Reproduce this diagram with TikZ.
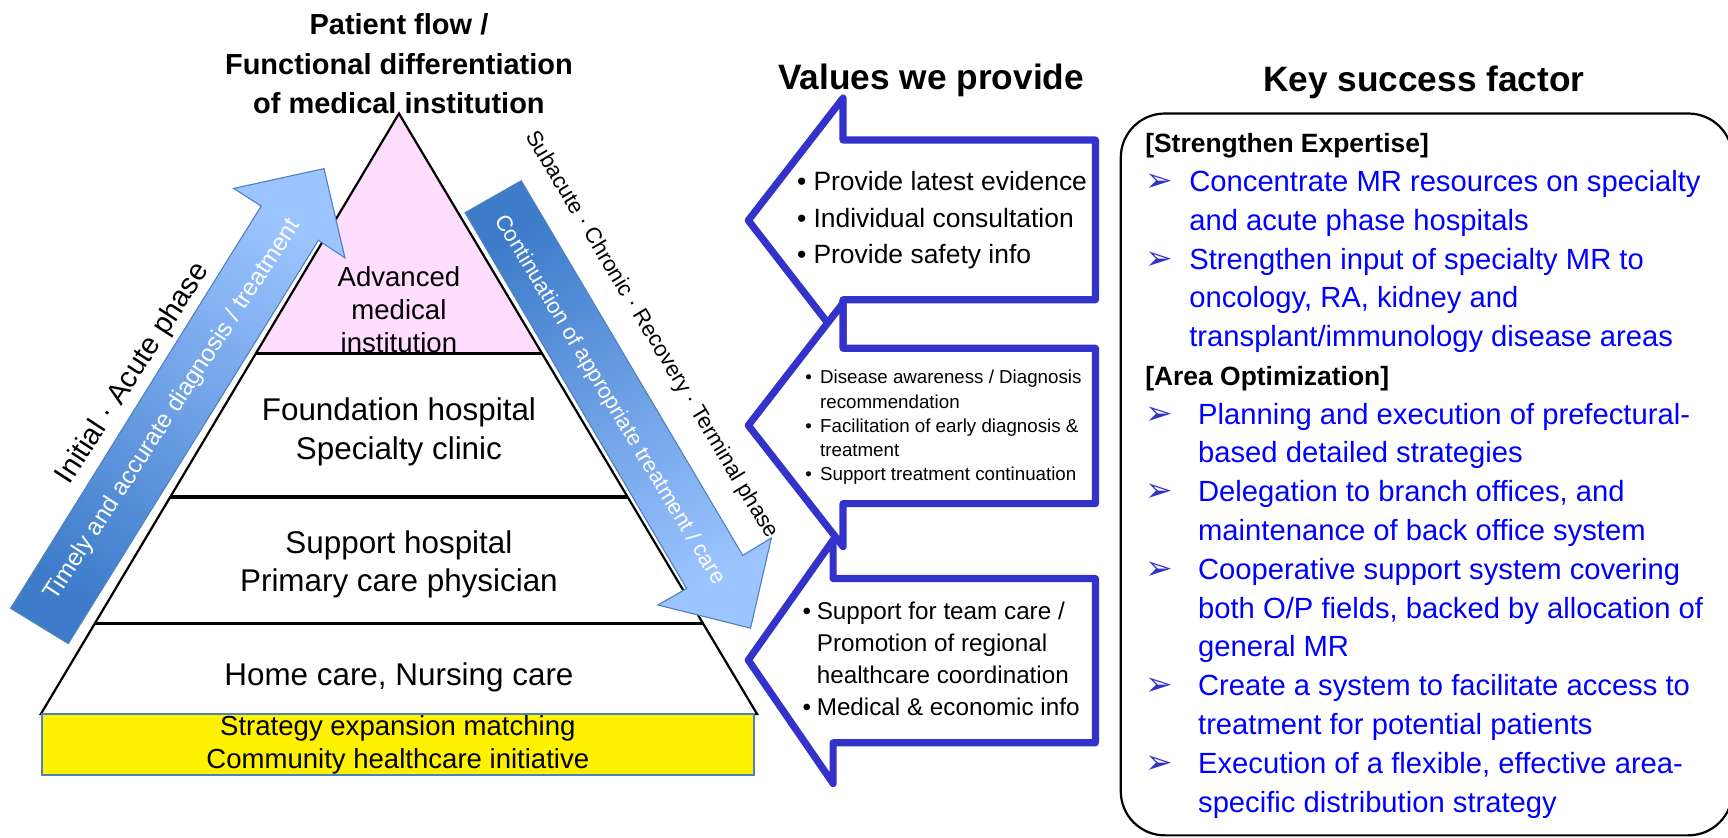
\documentclass[tikz,border=0pt]{standalone}
\usepackage{fontspec}
\setmainfont{Liberation Sans}
\newfontfamily\dingfont{DejaVu Sans}
\usetikzlibrary{calc}
\definecolor{pinkfill}{RGB}{255,221,255}
\definecolor{chevblue}{RGB}{51,51,204}
\definecolor{arrowdark}{RGB}{62,124,202}
\definecolor{arrowlight}{RGB}{156,196,255}
\definecolor{arrowline}{RGB}{79,129,189}
\definecolor{ksfblue}{RGB}{0,0,255}
\newcommand{\bul}[1]{\makebox[#1][l]{•}}
\begin{document}
\begin{tikzpicture}[x=1pt,y=-1pt,
  title/.style={font=\bfseries\fontsize{26.3}{36}\selectfont,align=center,inner sep=0},
  header/.style={font=\bfseries\fontsize{32}{38}\selectfont,inner sep=0},
  tier/.style={font=\fontsize{28.5}{35}\selectfont,align=center,inner sep=0},
  phase/.style={font=\fontsize{20}{24}\selectfont,inner sep=0},
  flow arrow/.style={draw=arrowline,line width=1},
  chevron/.style={draw=chevblue,fill=white,line width=6.5,line join=round},
  value/.style={align=left,anchor=west,inner sep=0},
  ksf/.style={font=\fontsize{26.5}{35}\selectfont,text=ksfblue,anchor=base west,inner sep=0},
  ksf head/.style={font=\bfseries\fontsize{24}{35}\selectfont,anchor=base west,inner sep=0},
  pointer/.style={font=\dingfont\fontsize{30}{34}\selectfont,text=chevblue,anchor=base west,inner sep=0}]

  \useasboundingbox (0,0) rectangle (1568,760);
  \clip (0,0) rectangle (1568,760);

  % pyramid
  \coordinate (apex) at (362,103);
  \coordinate (baseL) at (37,648);
  \coordinate (baseR) at (687,648);
  \fill[pinkfill] (apex) -- ($(apex)!0.4!(baseL)$) -- ($(apex)!0.4!(baseR)$) -- cycle;
  \draw[line width=2] (apex) -- (baseL) -- (baseR) -- cycle;
  \foreach \t in {0.4,0.6385,0.8495}
    \draw[line width=3] ($(apex)!\t!(baseL)$) -- ($(apex)!\t!(baseR)$);

  \node[draw=arrowline,fill=yellow,line width=1.5,minimum width=646pt,minimum height=55pt,
    inner sep=0,align=center,font=\fontsize{25}{30}\selectfont] (strategy) at (361,675.5)
    {Strategy expansion matching\\Community healthcare initiative};

  \node[tier,font=\fontsize{25}{30}\selectfont] (advanced) at (362,281) {Advanced\\medical\\institution};
  \node[tier] (foundation) at (362,392) {Foundation hospital\\Specialty clinic};
  \node[tier] (support) at (362,512) {Support hospital\\Primary care physician};
  \node[tier] (home) at (362,615) {Home care, Nursing care};

  % flow arrows
  \path[flow arrow,top color=arrowlight,bottom color=arrowdark,shading angle=-32]
    (9.7,552) -- (62,584) -- (289,218) -- (313,234) -- (294,153) -- (212,171) -- (237,187) -- cycle;
  \path[flow arrow,top color=arrowdark,bottom color=arrowlight,shading angle=31]
    (422,193) -- (473,164) -- (674,504) -- (700,488) -- (681,570) -- (597,549) -- (623,534) -- cycle;

  \node[phase,font=\fontsize{26.5}{30}\selectfont,rotate=57] (initial) at (121,339) {Initial · Acute phase};
  \node[phase,font=\fontsize{22}{26}\selectfont,text=white,rotate=57] (timely) at (157,372)
    {Timely and accurate diagnosis / treatment};
  \node[phase,text=white,rotate=-59] (continuation) at (553,363) {Continuation of appropriate treatment / care};
  \node[phase,rotate=-59] (subacute) at (591,304) {Subacute · Chronic · Recovery · Terminal phase};

  % values we provide
  \draw[chevron] (765,89) -- (765,127) -- (994,127) -- (994,272) -- (765,272) -- (765,311) -- (679,200) -- cycle;
  \draw[chevron] (765,275) -- (765,316) -- (994,316) -- (994,457) -- (765,457) -- (765,496) -- (679,386) -- cycle;
  \draw[chevron] (756,490) -- (756,525) -- (994,525) -- (994,674) -- (756,674) -- (756,711) -- (679,599) -- cycle;

  \node[value,font=\fontsize{24}{33}\selectfont] (value1) at (723,200)
    {\bul{15pt}Provide latest evidence\\\bul{15pt}Individual consultation\\\bul{15pt}Provide safety info};
  \node[value,font=\fontsize{17}{22}\selectfont] (value2) at (730.5,388)
    {\bul{13.5pt}Disease awareness / Diagnosis\\\hspace*{13.5pt}recommendation\\
     \bul{13.5pt}Facilitation of early diagnosis \&\\\hspace*{13.5pt}treatment\\
     \bul{13.5pt}Support treatment continuation};
  \node[value,font=\fontsize{22}{29}\selectfont] (value3) at (728,598)
    {\bul{13pt}Support for team care /\\\hspace*{13pt}Promotion of regional\\
     \hspace*{13pt}healthcare coordination\\\bul{13pt}Medical \& economic info};

  % key success factor
  \draw[line width=2,rounded corners=40pt] (1017,103) rectangle (1572,758);
  \node[ksf head] (expertise) at (1039,138.5) {[Strengthen Expertise]};
  \node[ksf head] (area) at (1039,138.5+35.2*6) {[Area Optimization]};
  \foreach \k in {1,3,7,9,11,14,16}
    \node[pointer] (tip\k) at (1039,138.5+35.2*\k) {➢};
  \foreach \k/\xx/\txt in {1/1079/{Concentrate MR resources on specialty},
      2/1079/{and acute phase hospitals},
      3/1079/{Strengthen input of specialty MR to},
      4/1079/{oncology, RA, kidney and},
      5/1079/{transplant/immunology disease areas},
      7/1087/{Planning and execution of prefectural-},
      8/1087/{based detailed strategies},
      9/1087/{Delegation to branch offices, and},
      10/1087/{maintenance of back office system},
      11/1087/{Cooperative support system covering},
      12/1087/{both O/P fields, backed by allocation of},
      13/1087/{general MR},
      14/1087/{Create a system to facilitate access to},
      15/1087/{treatment for potential patients},
      16/1087/{Execution of a flexible, effective area-},
      17/1087/{specific distribution strategy}}
    \node[ksf] (ksf\k) at (\xx,138.5+35.2*\k) {\txt};

  % titles
  \node[title] (flow) at (362,58) {Patient flow /\\Functional differentiation\\of medical institution};
  \node[header] (values) at (845,73) {Values we provide};
  \node[header] (ksftitle) at (1292,75) {Key success factor};
\end{tikzpicture}
\end{document}
